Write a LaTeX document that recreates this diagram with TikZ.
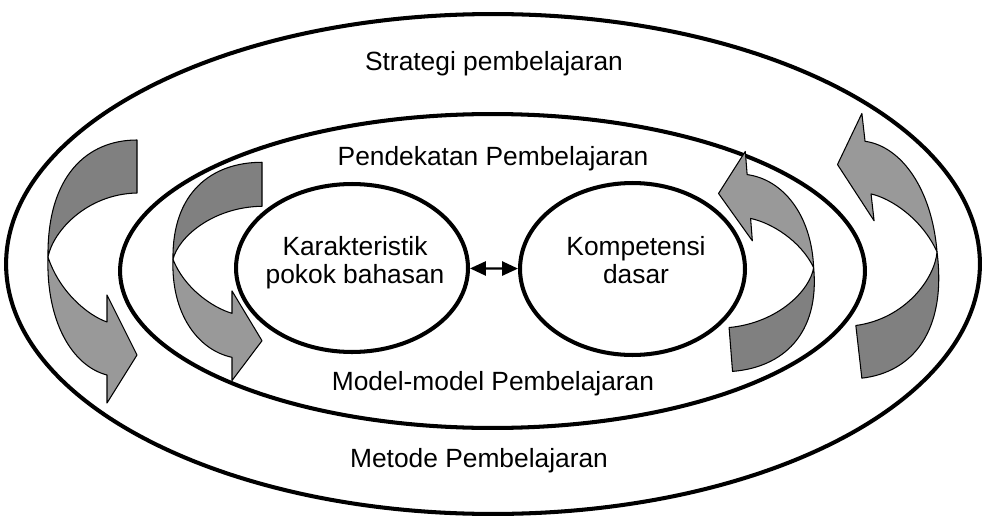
\documentclass[tikz,border=0pt]{standalone}
\usepackage{fontspec}
\setmainfont{Liberation Sans}
\usetikzlibrary{shapes.geometric,arrows.meta}

\tikzset{
  ring/.style={ellipse, draw, line width=2.3pt, inner sep=0pt},
  lbl/.style={font=\fontsize{15}{15.9}\selectfont, inner sep=0pt, anchor=base},
  darkband/.style={fill=black!50, draw=black, line width=0.6pt, line join=round},
  lightband/.style={fill=black!40, draw=black, line width=0.6pt, line join=round},
  twoway/.style={{Triangle[length=9pt,width=8pt]}-{Triangle[length=9pt,width=8pt]}, line width=1.2pt}
}

% one curved band arrow, drawn in pixel units round its tail
\newcommand{\bentarrow}[1]{%
  \begin{scope}[#1]
    % head half (light)
    \filldraw[lightband] (-89,-14) .. controls (-91,50) and (-65,95) .. (-30,104)
      -- (-30,132) -- (0,84) -- (-30,24) -- (-30,51)
      .. controls (-50,44) and (-78,20) .. (-89,-14) -- cycle;
    % tail half (dark)
    \filldraw[darkband] (0,-131) .. controls (-50,-131) and (-90,-95) .. (-89,-14)
      .. controls (-84,-40) and (-50,-77) .. (0,-78) -- cycle;
  \end{scope}}

\begin{document}
\begin{tikzpicture}[x=0.02cm, y=-0.02cm]
    \useasboundingbox (0,0) rectangle (986,517);

    % Rings
    \node[ring, minimum width=19.48cm, minimum height=10.0cm] (outer) at (493,264) {};
    \node[ring, minimum width=14.9cm, minimum height=6.28cm] (inner) at (492.5,271) {};
    \node[ring, minimum width=4.64cm, minimum height=3.36cm] (kar) at (352,268) {};
    \node[ring, minimum width=4.5cm, minimum height=3.44cm] (komp) at (632.5,269) {};

    % Curved arrows
    \bentarrow{shift={(137,271)}}
    \bentarrow{shift={(262,271)}, yscale=0.83}
    \bentarrow{shift={(724,263)}, rotate=184.5, yscale=0.83}
    \bentarrow{shift={(847,248)}, rotate=186.5}

    % Labels
    \node[lbl] (strat) at (494,71) {Strategi pembelajaran};
    \node[lbl] (pend) at (493,165) {Pendekatan Pembelajaran};
    \node[lbl] (model) at (493,390) {Model-model Pembelajaran};
    \node[lbl] (metode) at (479,467) {Metode Pembelajaran};

    \node[lbl, align=center] (kartxt) at (355,283) {Karakteristik\\pokok bahasan};
    \node[lbl, align=center] (komptxt) at (636,283) {Kompetensi\\dasar};

    \draw[twoway] (kar) -- (komp);
\end{tikzpicture}
\end{document}
